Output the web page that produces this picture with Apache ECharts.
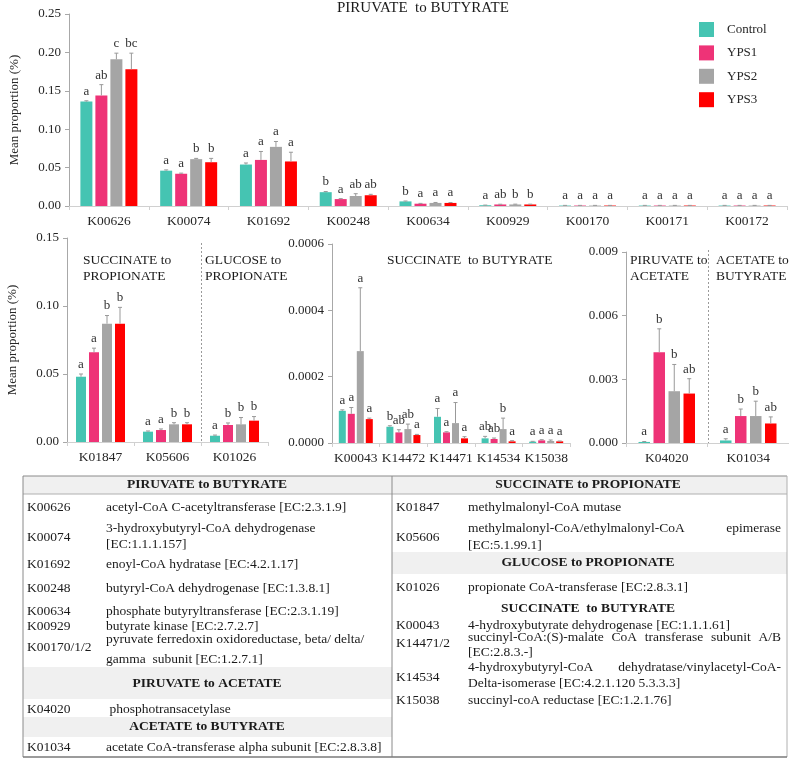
<!DOCTYPE html>
<html><head><meta charset="utf-8">
<script src="https://cdn.jsdelivr.net/npm/echarts@6/dist/echarts.min.js"></script>
<style>html,body{margin:0;padding:0;background:#fff}#c{width:789px;height:760px}</style>
</head><body><div id="c"></div>
<script>
// ---------- DATA ----------
const groups = ['Control', 'YPS1', 'YPS2', 'YPS3'];
const colors = ['#45C4B2', '#EE3377', '#A5A5A5', '#FF0000'];

// Panel 1: PIRUVATE to BUTYRATE
const p1Cats = ['K00626','K00074','K01692','K00248','K00634','K00929','K00170','K00171','K00172'];
const p1Control = [0.136, 0.046, 0.054, 0.018, 0.006, 0.001, 0.0006, 0.0006, 0.0006];
const p1YPS1    = [0.144, 0.042, 0.060, 0.009, 0.003, 0.002, 0.0006, 0.0006, 0.0006];
const p1YPS2    = [0.191, 0.061, 0.077, 0.013, 0.004, 0.002, 0.0006, 0.0006, 0.0006];
const p1YPS3    = [0.178, 0.057, 0.058, 0.014, 0.004, 0.002, 0.0006, 0.0006, 0.0006];
const p1ErrControl = [0.001, 0.001, 0.002, 0.0008, 0.0005, 0.0002, 0.0002, 0.0002, 0.0002];
const p1ErrYPS1    = [0.014, 0.0008, 0.011, 0.0006, 0.0004, 0.0003, 0.0002, 0.0002, 0.0002];
const p1ErrYPS2    = [0.008, 0.001, 0.007, 0.003, 0.0006, 0.0004, 0.0002, 0.0002, 0.0002];
const p1ErrYPS3    = [0.021, 0.005, 0.012, 0.0012, 0.0005, 0.0004, 0.0002, 0.0002, 0.0002];
const p1LetControl = ['a','a','a','b','b','a','a','a','a'];
const p1LetYPS1    = ['ab','a','a','a','a','ab','a','a','a'];
const p1LetYPS2    = ['c','b','a','ab','a','b','a','a','a'];
const p1LetYPS3    = ['bc','b','a','ab','a','b','a','a','a'];
const p1Ticks = ['0.00','0.05','0.10','0.15','0.20','0.25'];

// Panel 2: SUCCINATE / GLUCOSE to PROPIONATE
const p2Cats = ['K01847','K05606','K01026'];
const p2Control = [0.048, 0.0076, 0.0046];
const p2YPS1    = [0.066, 0.0088, 0.0125];
const p2YPS2    = [0.087, 0.013, 0.013];
const p2YPS3    = [0.087, 0.013, 0.0157];
const p2ErrControl = [0.002, 0.0005, 0.0005];
const p2ErrYPS1    = [0.003, 0.0008, 0.0015];
const p2ErrYPS2    = [0.006, 0.0012, 0.005];
const p2ErrYPS3    = [0.012, 0.0012, 0.003];
const p2LetControl = ['a','a','a'];
const p2LetYPS1    = ['a','a','b'];
const p2LetYPS2    = ['b','b','b'];
const p2LetYPS3    = ['b','b','b'];
const p2Ticks = ['0.00','0.05','0.10','0.15'];

// Panel 3: SUCCINATE to BUTYRATE
const p3Cats = ['K00043','K14472','K14471','K14534','K15038'];
const p3Control = [0.000097, 0.000049, 0.000079, 0.000014, 0.000004];
const p3YPS1    = [0.000088, 0.000032, 0.000032, 0.000012, 0.000008];
const p3YPS2    = [0.000277, 0.000042, 0.000060, 0.000042, 0.000006];
const p3YPS3    = [0.000072, 0.000024, 0.000014, 0.000005, 0.000005];
const p3ErrControl = [0.000003, 0.000003, 0.000025, 0.000006, 0.000001];
const p3ErrYPS1    = [0.000019, 0.000008, 0.000002, 0.000003, 0.000002];
const p3ErrYPS2    = [0.000191, 0.000015, 0.000062, 0.000033, 0.000003];
const p3ErrYPS3    = [0.000003, 0.000002, 0.000005, 0.000002, 0.000001];
const p3LetControl = ['a','b','a','ab','a'];
const p3LetYPS1    = ['a','ab','a','ab','a'];
const p3LetYPS2    = ['a','ab','a','b','a'];
const p3LetYPS3    = ['a','a','a','a','a'];
const p3Ticks = ['0.0000','0.0002','0.0004','0.0006'];

// Panel 4: PIRUVATE to ACETATE / ACETATE to BUTYRATE
const p4Cats = ['K04020','K01034'];
const p4Control = [0.00005, 0.00012];
const p4YPS1    = [0.00428, 0.00127];
const p4YPS2    = [0.00244, 0.00127];
const p4YPS3    = [0.00233, 0.00092];
const p4ErrControl = [0.00002, 0.00008];
const p4ErrYPS1    = [0.0011, 0.00033];
const p4ErrYPS2    = [0.00126, 0.0007];
const p4ErrYPS3    = [0.0007, 0.00031];
const p4LetControl = ['a','a'];
const p4LetYPS1    = ['b','b'];
const p4LetYPS2    = ['b','b'];
const p4LetYPS3    = ['ab','ab'];
const p4Ticks = ['0.000','0.003','0.006','0.009'];

// Table content
const tblLeftHeads = ['PIRUVATE to BUTYRATE', 'PIRUVATE to ACETATE', 'ACETATE to BUTYRATE'];
const tblRightHeads = ['SUCCINATE to PROPIONATE', 'GLUCOSE to PROPIONATE', 'SUCCINATE  to BUTYRATE'];
const tblLeftCodes = ['K00626','K00074','K01692','K00248','K00634','K00929','K00170/1/2','K04020','K01034'];
const tblLeftDesc = [
  ['acetyl-CoA C-acetyltransferase [EC:2.3.1.9]'],
  ['3-hydroxybutyryl-CoA dehydrogenase', '[EC:1.1.1.157]'],
  ['enoyl-CoA hydratase [EC:4.2.1.17]'],
  ['butyryl-CoA dehydrogenase [EC:1.3.8.1]'],
  ['phosphate butyryltransferase [EC:2.3.1.19]'],
  ['butyrate kinase [EC:2.7.2.7]'],
  ['pyruvate ferredoxin oxidoreductase, beta/ delta/', 'gamma  subunit [EC:1.2.7.1]'],
  [' phosphotransacetylase'],
  ['acetate CoA-transferase alpha subunit [EC:2.8.3.8]']
];
const tblRightCodes = ['K01847','K05606','K01026','K00043','K14471/2','K14534','K15038'];
const tblRightDesc = [
  ['methylmalonyl-CoA mutase'],
  ['methylmalonyl-CoA/ethylmalonyl-CoA epimerase', '[EC:5.1.99.1]'],
  ['propionate CoA-transferase [EC:2.8.3.1]'],
  ['4-hydroxybutyrate dehydrogenase [EC:1.1.1.61]'],
  ['succinyl-CoA:(S)-malate CoA transferase subunit A/B', '[EC:2.8.3.-]'],
  ['4-hydroxybutyryl-CoA dehydratase/vinylacetyl-CoA-', 'Delta-isomerase [EC:4.2.1.120 5.3.3.3]'],
  ['succinyl-coA reductase [EC:1.2.1.76]']
];

// ---------- LAYOUT ----------
const FF = "'Liberation Serif','Times New Roman',serif";
const TXT = '#262626';
const panels = [
  {cats:p1Cats, means:[p1Control,p1YPS1,p1YPS2,p1YPS3], errs:[p1ErrControl,p1ErrYPS1,p1ErrYPS2,p1ErrYPS3],
   lets:[p1LetControl,p1LetYPS1,p1LetYPS2,p1LetYPS3], ticks:p1Ticks,
   grid:{left:67, top:14, width:720, height:192}, max:0.25, interval:0.05, bw:12, gap:3, yname:true, split:null},
  {cats:p2Cats, means:[p2Control,p2YPS1,p2YPS2,p2YPS3], errs:[p2ErrControl,p2ErrYPS1,p2ErrYPS2,p2ErrYPS3],
   lets:[p2LetControl,p2LetYPS1,p2LetYPS2,p2LetYPS3], ticks:p2Ticks,
   grid:{left:67, top:238, width:201, height:204}, max:0.15, interval:0.05, bw:10, gap:3, yname:true, split:1, splitTop:243},
  {cats:p3Cats, means:[p3Control,p3YPS1,p3YPS2,p3YPS3], errs:[p3ErrControl,p3ErrYPS1,p3ErrYPS2,p3ErrYPS3],
   lets:[p3LetControl,p3LetYPS1,p3LetYPS2,p3LetYPS3], ticks:p3Ticks,
   grid:{left:332, top:244, width:238, height:199}, max:0.0006, interval:0.0002, bw:7, gap:2, yname:false, split:null},
  {cats:p4Cats, means:[p4Control,p4YPS1,p4YPS2,p4YPS3], errs:[p4ErrControl,p4ErrYPS1,p4ErrYPS2,p4ErrYPS3],
   lets:[p4LetControl,p4LetYPS1,p4LetYPS2,p4LetYPS3], ticks:p4Ticks,
   grid:{left:626, top:252, width:163, height:191}, max:0.009, interval:0.003, bw:11.5, gap:3.5, yname:false, split:0, splitTop:250}
];

const grids = [], xAxes = [], yAxes = [], series = [];
panels.forEach((p, pi) => {
  grids.push(Object.assign({containLabel:false}, p.grid));
  xAxes.push({
    type:'category', gridIndex:pi, data:p.cats,
    axisLine:{lineStyle:{color:'#d0d0d0'}},
    axisTick:{show:true, length:4, lineStyle:{color:'#d0d0d0'}},
    axisLabel:{color:TXT, fontFamily:FF, fontSize:13.5, margin:8, interval:0},
    splitLine:{show:false}
  });
  yAxes.push({
    type:'value', gridIndex:pi, min:0, max:p.max, interval:p.interval,
    name: p.yname ? 'Mean proportion (%)' : '', nameLocation:'middle', nameGap:48, nameRotate:90,
    nameTextStyle:{color:TXT, fontFamily:FF, fontSize:13},
    axisLine:{show:true, lineStyle:{color:'#a8a8a8'}},
    axisTick:{show:true, length:4, lineStyle:{color:'#a8a8a8'}},
    splitLine:{show:false},
    axisLabel:{color:TXT, fontFamily:FF, fontSize:13, margin:8,
      formatter:(v) => p.ticks[Math.round(v / p.interval)]}
  });
  const n = 4, total = n * p.bw + (n - 1) * p.gap;
  groups.forEach((g, gi) => {
    series.push({
      name:g, type:'bar', xAxisIndex:pi, yAxisIndex:pi, data:p.means[gi],
      barWidth:p.bw, barGap:(p.gap / p.bw * 100) + '%', itemStyle:{color:colors[gi]},
      silent:true, animation:false
    });
  });
  groups.forEach((g, gi) => {
    const off = -total / 2 + p.bw / 2 + gi * (p.bw + p.gap);
    const lets = p.lets[gi];
    series.push({
      name:'err-' + g + '-' + pi, type:'custom', xAxisIndex:pi, yAxisIndex:pi, z:5,
      data:p.means[gi].map((m, i) => [i, m, p.errs[gi][i]]), silent:true, animation:false,
      renderItem:(params, api) => {
        const ci = api.value(0), m = api.value(1), e = api.value(2);
        const b = api.coord([ci, m]), t = api.coord([ci, m + e]);
        const cx = b[0] + off;
        const ch = [
          {type:'line', shape:{x1:cx, y1:b[1], x2:cx, y2:t[1]}, style:{stroke:'#999', lineWidth:1}},
          {type:'line', shape:{x1:cx - 2, y1:t[1], x2:cx + 2, y2:t[1]}, style:{stroke:'#999', lineWidth:1}},
          {type:'text', x:cx, y:t[1] - 3, style:{text:lets[params.dataIndex], fill:'#333', font:'13px ' + FF,
            align:'center', verticalAlign:'bottom'}}
        ];
        return {type:'group', children:ch};
      }
    });
  });
});

// ---------- GRAPHIC (titles + table) ----------
const gfx = [];
function txt(x, y, s, opts) {
  opts = opts || {};
  gfx.push({type:'text', x:x, y:y, silent:true, style:{text:s, fill:opts.fill || '#1a1a1a',
    font:(opts.bold ? 'bold ' : '') + (opts.size || 13.5) + 'px ' + FF,
    align:opts.align || 'left', verticalAlign:'middle', lineHeight:opts.lh || 16}});
}
function line(x1, y1, x2, y2, c, w, dash) {
  gfx.push({type:'line', silent:true, shape:{x1, y1, x2, y2},
    style:{stroke:c || '#8a8a8a', lineWidth:w || 1, lineDash:dash || null}});
}
function band(x, y, w, h) {
  gfx.push({type:'rect', silent:true, shape:{x, y, width:w, height:h}, style:{fill:'#f0f0f0'}});
}
const mctx = document.createElement('canvas').getContext('2d');
function justify(x1, x2, y, s, size) {
  mctx.font = size + 'px ' + FF;
  const words = s.split(' ');
  const ws = words.map(w => mctx.measureText(w).width);
  const sum = ws.reduce((a, b) => a + b, 0);
  const gapW = (x2 - x1 - sum) / (words.length - 1);
  let x = x1;
  words.forEach((w, i) => { txt(x, y, w, {size}); x += ws[i] + gapW; });
}

// chart titles
txt(337, 8, 'PIRUVATE  to BUTYRATE', {size:15});
txt(83, 268, 'SUCCINATE to\nPROPIONATE', {size:13.5});
txt(205, 268, 'GLUCOSE to\nPROPIONATE', {size:13.5});
txt(387, 260, 'SUCCINATE  to BUTYRATE', {size:13.5});
txt(630, 268, 'PIRUVATE to\nACETATE', {size:13.5});
txt(716, 268, 'ACETATE to\nBUTYRATE', {size:13.5});

// table bands
const TL = 23, TM = 392, TR = 787, TT = 476, TB = 757;
band(TL, TT, TR - TL, 18);
band(TL, 667, TM - TL, 32);
band(TL, 717, TM - TL, 20);
band(TM, 552, TR - TM, 22);
// borders
line(TL, TT, TR, TT);
line(TL, 494, TR, 494, '#b0b0b0');
line(TL, TT, TL, TB);
line(TM, TT, TM, TB);
line(TR, TT, TR, TB, '#b0b0b0');
line(TL, TB, TR, TB, '#7a7a7a', 1.5);

// headers
const leftHeadY = [485, 684, 727];
tblLeftHeads.forEach((h, i) => txt(207, leftHeadY[i], h, {bold:true, align:'center'}));
const rightHeadY = [485, 563, 609];
tblRightHeads.forEach((h, i) => txt(588, rightHeadY[i], h, {bold:true, align:'center'}));

// left rows
const leftCodeY = [507, 537, 564, 588, 611, 626, 647, 709, 747];
const leftDescY = [[507], [528, 544], [564], [588], [611], [626], [639, 659], [709], [747]];
tblLeftCodes.forEach((c, i) => {
  txt(27, leftCodeY[i], c);
  tblLeftDesc[i].forEach((d, j) => txt(106, leftDescY[i][j], d));
});
// right rows
const rightCodeY = [507, 537, 587, 625, 643, 677, 700];
const rightDescY = [[507], [528, 545], [587], [625], [637, 652], [667, 683], [700]];
const justifyLines = {'1-0':'split2', '4-0':'just', '5-0':'just'};
tblRightCodes.forEach((c, i) => {
  txt(396, rightCodeY[i], c);
  tblRightDesc[i].forEach((d, j) => {
    const k = i + '-' + j;
    if (justifyLines[k] === 'split2') {
      const idx = d.lastIndexOf(' ');
      txt(468, rightDescY[i][j], d.slice(0, idx));
      txt(781, rightDescY[i][j], d.slice(idx + 1), {align:'right'});
    } else if (justifyLines[k] === 'just') {
      justify(468, 781, rightDescY[i][j], d, 13.5);
    } else {
      txt(468, rightDescY[i][j], d);
    }
  });
});

const chart = echarts.init(document.getElementById('c'), null, {renderer:'canvas'});
const baseOption = {
  animation:false,
  backgroundColor:'#fff',
  legend:{
    data:groups, orient:'vertical', left:694, top:17, itemWidth:15, itemHeight:15, itemGap:8.4,
    icon:'rect', selectedMode:false,
    textStyle:{color:TXT, fontFamily:FF, fontSize:13, padding:[0, 0, 0, 8]}
  },
  grid:grids, xAxis:xAxes, yAxis:yAxes, series:series
};
chart.setOption(baseOption);

// dashed dividers between pathway groups, positioned through the category axes
panels.forEach((p, pi) => {
  if (p.split === null) return;
  const c0 = chart.convertToPixel({xAxisIndex:pi, yAxisIndex:pi}, [p.split, 0]);
  const c1 = chart.convertToPixel({xAxisIndex:pi, yAxisIndex:pi}, [p.split + 1, 0]);
  const xb = Math.round((c0[0] + c1[0]) / 2) + 0.5;
  line(xb, p.splitTop, xb, c0[1], '#9a9a9a', 1, [2, 2]);
});
chart.setOption({graphic:{elements:gfx}});
</script>
</body></html>
